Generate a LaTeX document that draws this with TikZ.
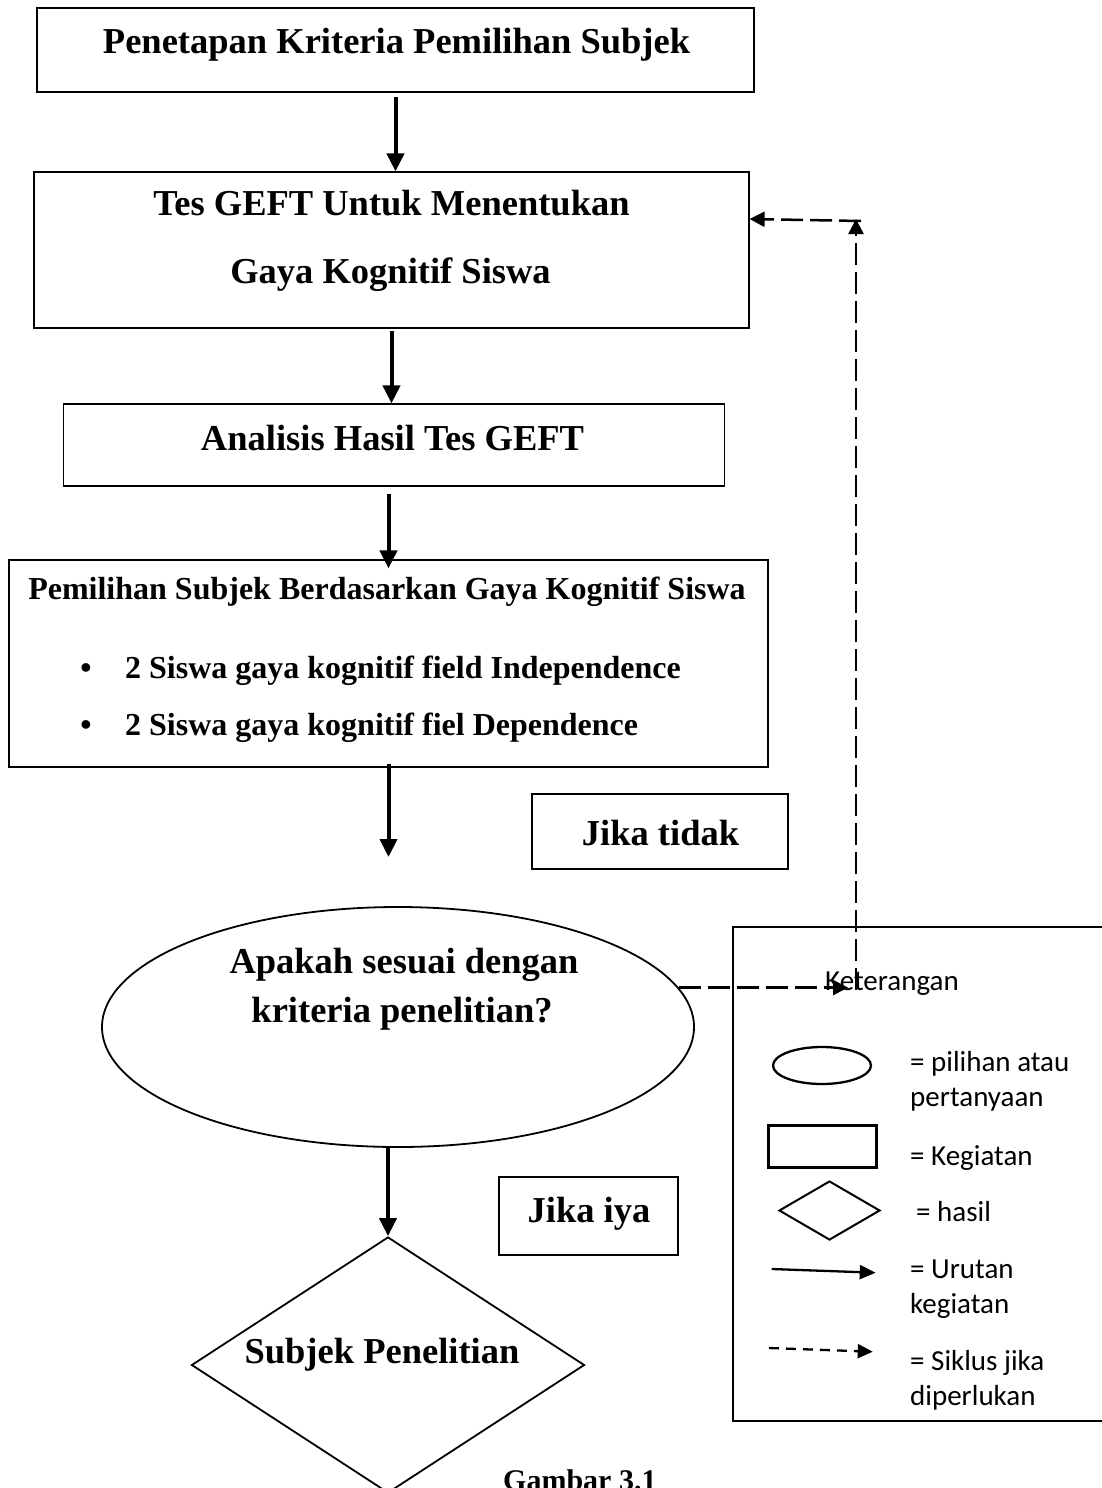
\documentclass[tikz,border=0pt]{standalone}
\usepackage{fontspec}
\setmainfont{Liberation Serif}
\newfontfamily\legfont{Carlito}
\usetikzlibrary{arrows.meta,shapes.geometric}
\begin{document}
\begin{tikzpicture}[x=1pt,y=-1pt,
  box/.style={draw, line width=1.2pt, rectangle, inner sep=0pt},
  flow/.style={line width=4pt, -{Triangle[length=18pt,width=17pt]}},
  cyc/.style={line width=2.5pt, dash pattern=on 22pt off 7pt, -{Triangle[length=15pt,width=15pt]}},
  ttl/.style={font=\fontsize{36.5}{40}\selectfont\bfseries, inner sep=0pt, anchor=base},
  subt/.style={font=\fontsize{32}{36}\selectfont\bfseries, inner sep=0pt, anchor=base},
  bul/.style={font=\fontsize{32}{36}\selectfont\bfseries, inner sep=0pt, anchor=base west},
  leg/.style={font=\legfont\fontsize{29}{35}\selectfont, inner sep=0pt, anchor=base west},
  legshape/.style={draw, line width=2.3pt, inner sep=0pt},
]
\useasboundingbox (0,0) rectangle (1101,1488);

% flow boxes
\node[box, minimum width=717, minimum height=84] (b1) at (395.5,50) {};
\node[box, minimum width=715, minimum height=156] (b2) at (391.5,250) {};
\node[box, minimum width=661, minimum height=82] (b3) at (393.75,445) {};
\node[box, minimum width=759, minimum height=207] (b4) at (388.5,663.5) {};
\node[box, minimum width=256, minimum height=75] (jt) at (660,831.5) {};
\node[box, minimum width=179, minimum height=78] (ji) at (588.5,1216) {};
\node[draw, ellipse, line width=1.8pt, inner sep=0pt, minimum width=592, minimum height=240] (ell) at (398,1027) {};
\node[draw, diamond, line width=1.8pt, inner sep=0pt, minimum width=393, minimum height=256] (dia) at (388,1365) {};

% texts
\node[ttl] (t1) at (396.5,53) {Penetapan Kriteria Pemilihan Subjek};
\node[ttl] (t2a) at (391.5,215) {Tes GEFT Untuk Menentukan};
\node[ttl] (t2b) at (390.5,283) {Gaya Kognitif Siswa};
\node[ttl] (t3) at (392.5,450) {Analisis Hasil Tes GEFT};
\node[subt] (t4) at (387,599.5) {Pemilihan Subjek Berdasarkan Gaya Kognitif Siswa};
\node[subt] (bu1) at (86,678) {\textbullet};
\node[bul] (t4a) at (125,678) {2 Siswa gaya kognitif field Independence};
\node[subt] (bu2) at (86,735) {\textbullet};
\node[bul] (t4b) at (125,735) {2 Siswa gaya kognitif fiel Dependence};
\node[ttl] (tjt) at (660.5,845) {Jika tidak};
\node[ttl] (tji) at (589,1222) {Jika iya};
\node[ttl] (te1) at (404,973) {Apakah sesuai dengan};
\node[ttl] (te2) at (402,1022) {kriteria penelitian?};
\node[ttl] (td) at (382,1363) {Subjek Penelitian};
\node[font=\fontsize{30}{34}\selectfont\bfseries, inner sep=0pt, anchor=base west] (gb) at (503,1490) {Gambar 3.1};

% flow arrows
\draw[flow, shorten <=4pt] (b1.south) -- (b1.south |- b2.north);
\draw[flow, shorten <=2pt] (b2.south) -- (b2.south |- b3.north);
\draw[flow, shorten <=7pt] (b3.south -| b4.north) -- ([yshift=-9pt]b4.north);
\coordinate (a4) at (388.5,857);
\draw[flow, shorten <=-4pt] (b4.south) -- (a4);
\draw[flow] (ell.south -| dia.north) -- (dia.north);

% legend
\node[draw, line width=2.5pt, inner sep=0pt, minimum width=382, minimum height=494] (lg) at (924,1174) {};
\node[leg] (lk) at (825,990) {Keterangan};
\node[legshape, ellipse, minimum width=98, minimum height=37] (le) at (822,1065.5) {};
\node[leg] (l1a) at (910,1071.7) {= pilihan atau};
\node[leg] (l1b) at (910,1106.7) {pertanyaan};
\node[legshape, rectangle, minimum width=108, minimum height=42] (lr) at (822.5,1146.5) {};
\node[leg] (l2) at (910,1165) {= Kegiatan};
\node[legshape, diamond, line width=2pt, minimum width=101, minimum height=59] (ld) at (829.5,1210.5) {};
\node[leg] (l3) at (916,1221.7) {= hasil};
\coordinate (la1) at (771.7,1269);
\coordinate (la2) at (875.7,1272.7);
\draw[line width=2.3pt, -{Triangle[length=16pt,width=14pt]}] (la1) -- (la2);
\node[leg] (l4a) at (910,1278) {= Urutan};
\node[leg] (l4b) at (910,1313) {kegiatan};
\coordinate (lb1) at (769,1348);
\coordinate (lb2) at (872.7,1351.7);
\draw[line width=2.3pt, dash pattern=on 10pt off 7pt, -{Triangle[length=15pt,width=14pt]}] (lb1) -- (lb2);
\node[leg] (l5a) at (910,1370) {= Siklus jika};
\node[leg] (l5b) at (910,1405) {diperlukan};

% cycle connectors
\coordinate (k1) at (848,990);
\coordinate (k2) at (856,990);
\coordinate (k3) at (856,219);
\draw[cyc] (ell.8) -- (k1 |- ell.8);
\draw[cyc] (k2) -- (k3);
\draw[cyc] ([xshift=5pt,yshift=-2pt]k3) -- ([yshift=31pt]b2.east);
\end{tikzpicture}
\end{document}
